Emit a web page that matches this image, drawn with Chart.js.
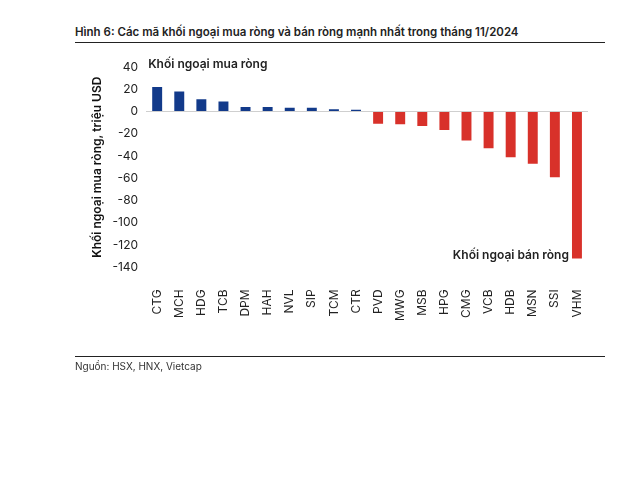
<!DOCTYPE html>
<html>
<head>
<meta charset="utf-8">
<script src="https://cdn.jsdelivr.net/npm/chart.js@4"></script>
<style>
  html, body { margin: 0; padding: 0; background: #fff; }
  body { width: 631px; height: 480px; position: relative; overflow: hidden; font-family: Inter, "Noto Sans", sans-serif; }
  #title { position: absolute; left: 75px; top: 25px; width: 530px; font-size: 11.5px; font-weight: 600; color: #222; padding-bottom: 3px; border-bottom: 1.2px solid #222; }
  #source { position: absolute; left: 75px; top: 356px; width: 530px; font-size: 10px; color: #333; border-top: 1.2px solid #222; padding-top: 3px; }
  #wrap { position: absolute; left: 0; top: 0; width: 631px; height: 480px; }
</style>
</head>
<body>
<div id="title">Hình 6: Các mã khối ngoại mua ròng và bán ròng mạnh nhất trong tháng 11/2024</div>
<div id="wrap"><canvas id="c" width="631" height="480"></canvas></div>
<div id="source">Nguồn: HSX, HNX, Vietcap</div>
<script>
const categories = ["CTG","MCH","HDG","TCB","DPM","HAH","NVL","SIP","TCM","CTR","PVD","MWG","MSB","HPG","CMG","VCB","HDB","MSN","SSI","VHM"];
const netValues = [22, 18, 11, 9, 4, 4, 3.5, 3.5, 2, 1.5, -11, -11.5, -13, -16.5, -26, -33, -41, -47, -59, -132];
const yTicks = [40, 20, 0, -20, -40, -60, -80, -100, -120, -140];
const buyLabel = "Khối ngoại mua ròng";
const sellLabel = "Khối ngoại bán ròng";
const yTitle = "Khối ngoại mua ròng, triệu USD";

const BLUE = "#123a8a";
const RED = "#d8312a";

const annot = {
  id: "annot",
  afterDatasetsDraw(chart) {
    const { ctx, scales: { x, y } } = chart;
    ctx.save();
    ctx.font = "600 12px Inter, 'Noto Sans', sans-serif";
    ctx.fillStyle = "#222";
    ctx.textBaseline = "middle";
    ctx.textAlign = "left";
    ctx.fillText(buyLabel, x.getPixelForValue(0) - 9, y.getPixelForValue(42));
    ctx.textAlign = "right";
    ctx.fillText(sellLabel, x.getPixelForValue(categories.length - 1) - 8, y.getPixelForValue(-129));
    ctx.restore();
  }
};

new Chart(document.getElementById("c"), {
  type: "bar",
  data: {
    labels: categories,
    datasets: [{
      data: netValues,
      backgroundColor: netValues.map(v => v >= 0 ? BLUE : RED),
      barPercentage: 0.45,
      categoryPercentage: 1.0
    }]
  },
  options: {
    responsive: false,
    animation: false,
    devicePixelRatio: 1,
    layout: { padding: { left: 90, right: 43, top: 67, bottom: 145 } },
    plugins: { legend: { display: false }, tooltip: { enabled: false } },
    scales: {
      x: {
        grid: { display: false },
        border: { display: false },
        ticks: {
          minRotation: 90, maxRotation: 90, padding: 14,
          color: "#222",
          font: { family: "Inter, 'Noto Sans', sans-serif", size: 12 }
        }
      },
      y: {
        min: -140, max: 40,
        afterBuildTicks(axis) { axis.ticks = yTicks.map(v => ({ value: v })); },
        grid: {
          drawTicks: false,
          color: ctx => ctx.tick && ctx.tick.value === 0 ? "#cfcfcf" : "rgba(0,0,0,0)",
          lineWidth: 1
        },
        border: { display: false },
        ticks: {
          padding: 8,
          color: "#222",
          font: { family: "Inter, 'Noto Sans', sans-serif", size: 12 }
        },
        title: {
          display: true,
          text: yTitle,
          color: "#111",
          padding: 0,
          font: { family: "Inter, 'Noto Sans', sans-serif", size: 12, weight: "600" }
        }
      }
    }
  },
  plugins: [annot]
});
</script>
</body>
</html>
